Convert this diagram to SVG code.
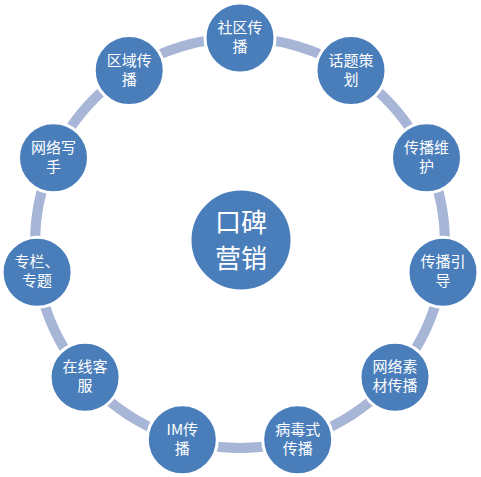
<svg xmlns="http://www.w3.org/2000/svg" width="481" height="477" viewBox="0 0 481 477">
<style>
.n{fill:#4a7ebb;stroke:#ffffff;stroke-width:3}
.t{fill:#ffffff;font-family:"Noto Sans CJK SC","Noto Sans",sans-serif;font-size:15px;text-anchor:middle}
.c{fill:#ffffff;font-family:"Noto Sans CJK SC","Noto Sans",sans-serif;font-size:26px;text-anchor:middle}
</style>
<rect width="481" height="477" fill="#ffffff"/>
<g id="connectors">
<circle cx="240" cy="243" r="205" fill="none" stroke="#a7b5d7" stroke-width="10"/>
</g>
<g id="center">
<circle class="n" cx="241" cy="240" r="51"/>
<text class="c" x="241" y="232">口碑</text>
<text class="c" x="241" y="268">营销</text>
</g>
<g id="n0"><circle class="n" cx="240" cy="38" r="35"/><text class="t" x="240" y="33">社区传</text><text class="t" x="240" y="52">播</text></g>
<g id="n1"><circle class="n" cx="351" cy="70.5" r="35"/><text class="t" x="351" y="65.5">话题策</text><text class="t" x="351" y="84.5">划</text></g>
<g id="n2"><circle class="n" cx="426.5" cy="157.8" r="35"/><text class="t" x="426.5" y="152.8">传播维</text><text class="t" x="426.5" y="171.8">护</text></g>
<g id="n3"><circle class="n" cx="443" cy="272.2" r="35"/><text class="t" x="443" y="267.2">传播引</text><text class="t" x="443" y="286.2">导</text></g>
<g id="n4"><circle class="n" cx="395" cy="377.3" r="35"/><text class="t" x="395" y="372.3">网络素</text><text class="t" x="395" y="391.3">材传播</text></g>
<g id="n5"><circle class="n" cx="297.7" cy="439.7" r="35"/><text class="t" x="297.7" y="434.7">病毒式</text><text class="t" x="297.7" y="453.7">传播</text></g>
<g id="n6"><circle class="n" cx="182.3" cy="439.7" r="35"/><text class="t" x="182.3" y="434.7">IM传</text><text class="t" x="182.3" y="453.7">播</text></g>
<g id="n7"><circle class="n" cx="85.1" cy="377.3" r="35"/><text class="t" x="85.1" y="372.3">在线客</text><text class="t" x="85.1" y="391.3">服</text></g>
<g id="n8"><circle class="n" cx="37.1" cy="272.2" r="35"/><text class="t" x="37.1" y="267.2">专栏、</text><text class="t" x="37.1" y="286.2">专题</text></g>
<g id="n9"><circle class="n" cx="53.5" cy="157.8" r="35"/><text class="t" x="53.5" y="152.8">网络写</text><text class="t" x="53.5" y="171.8">手</text></g>
<g id="n10"><circle class="n" cx="129.2" cy="70.5" r="35"/><text class="t" x="129.2" y="65.5">区域传</text><text class="t" x="129.2" y="84.5">播</text></g>
</svg>
